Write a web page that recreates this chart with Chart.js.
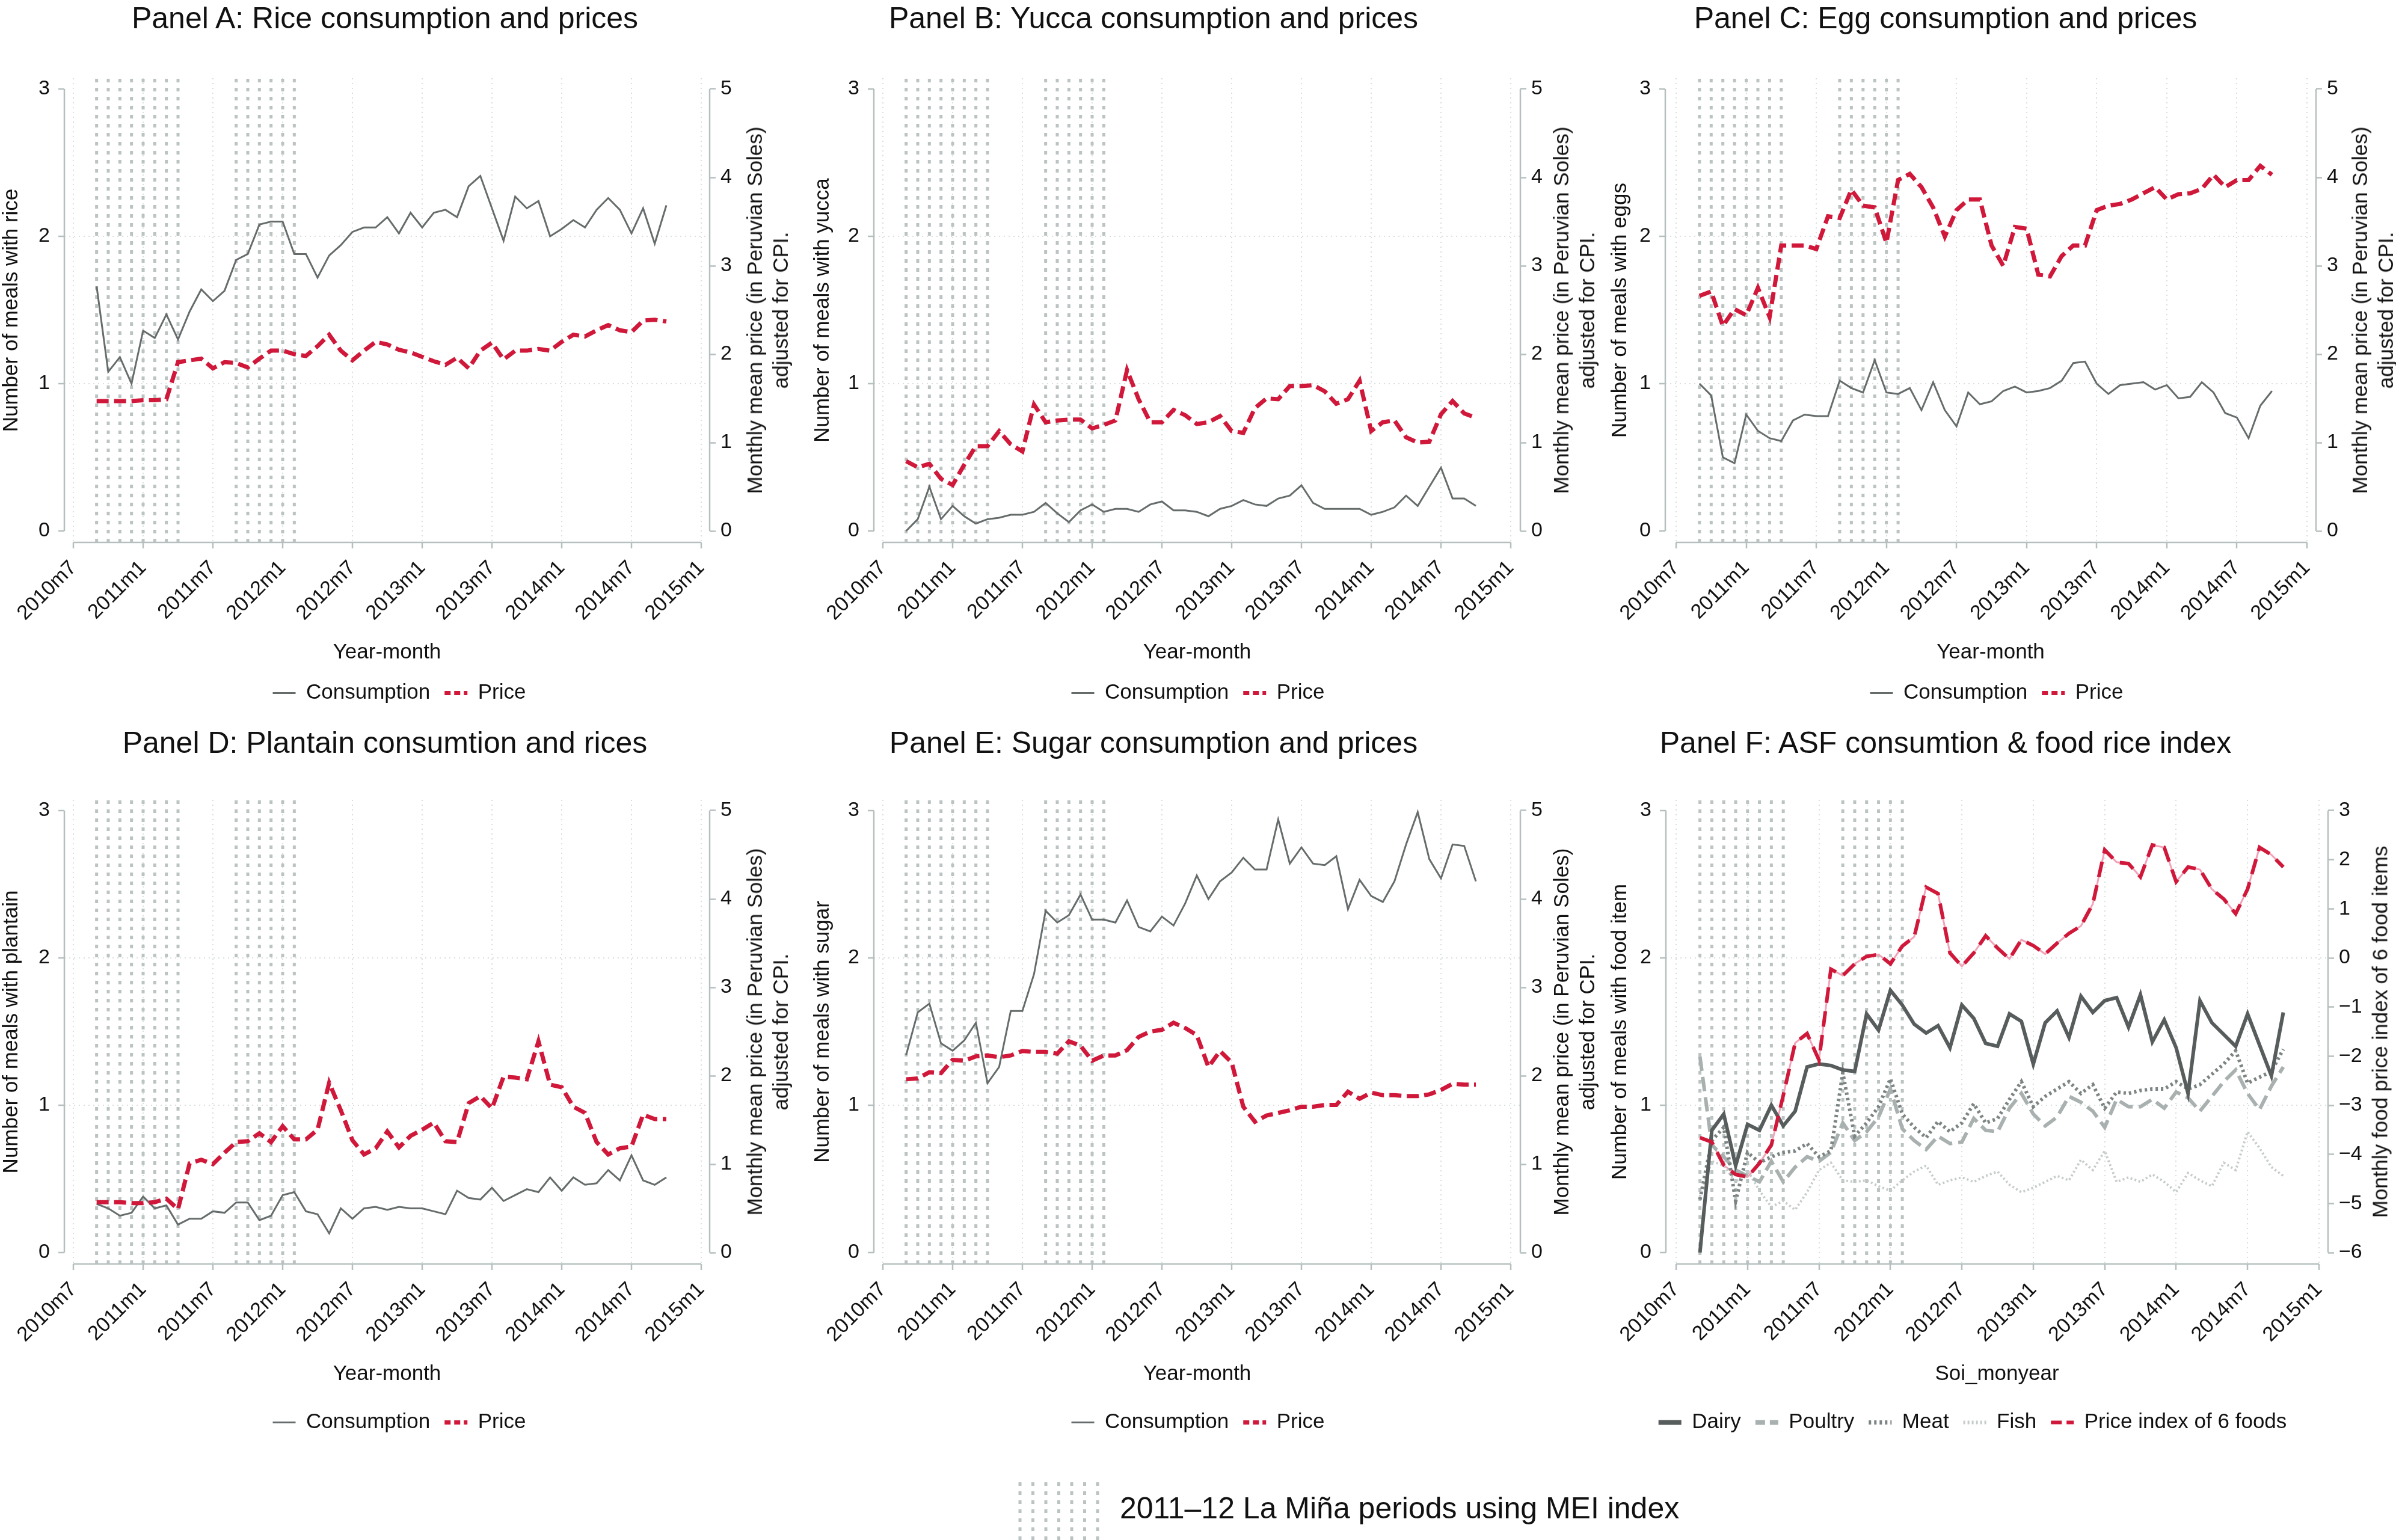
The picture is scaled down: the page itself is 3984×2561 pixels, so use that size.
<!DOCTYPE html>
<html>
<head>
<meta charset="utf-8">
<script src="https://cdn.jsdelivr.net/npm/chart.js@4.4.1/dist/chart.umd.min.js"></script>
<style>
html,body{margin:0;padding:0;background:#fff;}
#page{position:relative;width:3984px;height:2561px;overflow:hidden;background:#fff;font-family:"Liberation Sans",Arial,sans-serif;color:#111;}
#page canvas{position:absolute;}
.ptitle{position:absolute;font-size:50px;line-height:50px;white-space:nowrap;transform:translate(-50%,-50%);}
.rtitle{position:absolute;font-size:35px;line-height:43px;white-space:nowrap;text-align:center;transform:translate(-50%,-50%) rotate(-90deg);}
.ninaText{position:absolute;font-size:50px;line-height:50px;white-space:nowrap;transform:translateY(-50%);}
</style>
</head>
<body>
<div id="page"></div>
<script>
// ---------------- DATA ----------------
const xTickLabels = ['2010m7','2011m1','2011m7','2012m1','2012m7','2013m1','2013m7','2014m1','2014m7','2015m1'];
const months = ['2010m9','2010m10','2010m11','2010m12',
  '2011m1','2011m2','2011m3','2011m4','2011m5','2011m6','2011m7','2011m8','2011m9','2011m10','2011m11','2011m12',
  '2012m1','2012m2','2012m3','2012m4','2012m5','2012m6','2012m7','2012m8','2012m9','2012m10','2012m11','2012m12',
  '2013m1','2013m2','2013m3','2013m4','2013m5','2013m6','2013m7','2013m8','2013m9','2013m10','2013m11','2013m12',
  '2014m1','2014m2','2014m3','2014m4','2014m5','2014m6','2014m7','2014m8','2014m9','2014m10'];
const laNinaMonths = ['2010m9','2010m10','2010m11','2010m12','2011m1','2011m2','2011m3','2011m4',
  '2011m9','2011m10','2011m11','2011m12','2012m1','2012m2'];

const leftTicks = [0, 1, 2, 3];
const priceTicks = [0, 1, 2, 3, 4, 5];
const indexTicks = [-6, -5, -4, -3, -2, -1, 0, 1, 2, 3];

const riceConsumption = [1.66,1.08,1.18,1.00,
  1.36,1.31,1.47,1.30,1.49,1.64,1.56,1.63,1.84,1.88,2.08,2.10,
  2.10,1.88,1.88,1.72,1.87,1.94,2.03,2.06,2.06,2.13,2.02,2.16,
  2.06,2.16,2.18,2.13,2.34,2.41,2.19,1.97,2.27,2.19,2.24,2.00,
  2.05,2.11,2.06,2.18,2.26,2.18,2.02,2.19,1.95,2.21];
const ricePrice = [1.47,1.47,1.47,1.47,
  1.48,1.48,1.49,1.91,1.93,1.95,1.84,1.91,1.90,1.85,1.95,2.04,
  2.04,2.00,1.98,2.09,2.22,2.04,1.93,2.04,2.14,2.11,2.05,2.02,
  1.97,1.92,1.88,1.96,1.84,2.04,2.13,1.94,2.04,2.04,2.06,2.04,
  2.14,2.22,2.20,2.27,2.33,2.27,2.25,2.38,2.39,2.37];

const yuccaConsumption = [0.00,0.08,0.30,0.08,
  0.17,0.10,0.05,0.08,0.09,0.11,0.11,0.13,0.19,0.12,0.06,0.14,
  0.18,0.13,0.15,0.15,0.13,0.18,0.20,0.14,0.14,0.13,0.10,0.15,
  0.17,0.21,0.18,0.17,0.22,0.24,0.31,0.19,0.15,0.15,0.15,0.15,
  0.11,0.13,0.16,0.24,0.17,0.30,0.43,0.22,0.22,0.17];
const yuccaPrice = [0.79,0.72,0.76,0.59,
  0.52,0.75,0.96,0.96,1.13,0.98,0.90,1.43,1.23,1.25,1.26,1.26,
  1.16,1.20,1.25,1.82,1.49,1.23,1.23,1.37,1.31,1.21,1.23,1.30,
  1.13,1.11,1.39,1.50,1.49,1.64,1.64,1.65,1.58,1.44,1.49,1.70,
  1.13,1.23,1.25,1.06,1.00,1.01,1.32,1.47,1.33,1.28];

const eggConsumption = [1.00,0.92,0.50,0.46,
  0.79,0.68,0.63,0.61,0.75,0.79,0.78,0.78,1.02,0.97,0.94,1.16,
  0.94,0.93,0.97,0.82,1.01,0.82,0.71,0.94,0.86,0.88,0.95,0.98,
  0.94,0.95,0.97,1.02,1.14,1.15,1.00,0.93,0.99,1.00,1.01,0.96,
  0.99,0.90,0.91,1.01,0.94,0.80,0.77,0.63,0.85,0.95];
const eggPrice = [2.66,2.71,2.32,2.51,
  2.44,2.75,2.42,3.23,3.23,3.23,3.19,3.56,3.54,3.86,3.68,3.66,
  3.26,3.97,4.04,3.89,3.66,3.33,3.63,3.75,3.75,3.23,3.00,3.44,
  3.42,2.90,2.88,3.11,3.23,3.23,3.63,3.68,3.70,3.75,3.82,3.89,
  3.75,3.81,3.82,3.87,4.03,3.89,3.97,3.97,4.13,4.03];

const plantainConsumption = [0.33,0.30,0.25,0.27,
  0.38,0.30,0.32,0.19,0.23,0.23,0.28,0.27,0.34,0.34,0.22,0.25,
  0.39,0.41,0.28,0.26,0.13,0.30,0.23,0.30,0.31,0.29,0.31,0.30,
  0.30,0.28,0.26,0.42,0.37,0.36,0.44,0.35,0.39,0.43,0.41,0.51,
  0.42,0.51,0.46,0.47,0.56,0.49,0.66,0.49,0.46,0.51];
const plantainPrice = [0.57,0.57,0.57,0.56,
  0.56,0.57,0.61,0.49,1.01,1.05,1.00,1.13,1.25,1.26,1.35,1.25,
  1.43,1.28,1.28,1.39,1.92,1.61,1.27,1.11,1.18,1.37,1.19,1.32,
  1.39,1.47,1.26,1.25,1.69,1.77,1.63,1.99,1.98,1.96,2.39,1.90,
  1.87,1.65,1.58,1.25,1.11,1.18,1.20,1.56,1.51,1.51];

const sugarConsumption = [1.34,1.63,1.69,1.42,
  1.37,1.44,1.56,1.15,1.26,1.64,1.64,1.89,2.32,2.24,2.29,2.43,
  2.26,2.26,2.24,2.39,2.21,2.18,2.28,2.22,2.37,2.56,2.40,2.52,
  2.58,2.68,2.60,2.60,2.94,2.64,2.75,2.64,2.63,2.69,2.33,2.53,
  2.42,2.38,2.52,2.77,2.99,2.67,2.54,2.77,2.76,2.52];
const sugarPrice = [1.96,1.97,2.04,2.03,
  2.18,2.17,2.22,2.23,2.21,2.23,2.28,2.27,2.27,2.25,2.39,2.34,
  2.17,2.23,2.23,2.29,2.44,2.50,2.52,2.60,2.54,2.46,2.10,2.28,
  2.15,1.65,1.48,1.55,1.58,1.61,1.65,1.65,1.67,1.67,1.82,1.74,
  1.81,1.78,1.78,1.77,1.77,1.79,1.84,1.91,1.90,1.90];

const dairy = [0.00,0.83,0.94,0.59,
  0.87,0.83,1.00,0.86,0.96,1.26,1.28,1.27,1.24,1.23,1.62,1.51,
  1.78,1.68,1.55,1.49,1.54,1.39,1.68,1.59,1.42,1.40,1.62,1.57,
  1.28,1.56,1.64,1.46,1.74,1.63,1.71,1.73,1.53,1.75,1.43,1.58,
  1.39,1.08,1.71,1.56,1.48,1.40,1.62,1.41,1.20,1.63];
const poultry = [1.33,0.73,0.65,0.56,
  0.52,0.48,0.62,0.48,0.58,0.65,0.62,0.68,0.88,0.76,0.82,0.92,
  1.11,0.84,0.76,0.70,0.79,0.74,0.75,0.91,0.83,0.82,0.98,1.08,
  0.94,0.86,0.92,1.06,1.02,0.96,0.85,1.04,0.99,0.99,1.04,0.98,
  1.09,1.05,0.96,1.06,1.16,1.24,1.08,0.97,1.13,1.26];
const meat = [0.36,0.76,0.85,0.35,
  0.68,0.61,0.65,0.68,0.69,0.74,0.65,0.69,1.22,0.79,0.88,0.99,
  1.18,0.94,0.85,0.78,0.89,0.82,0.88,1.01,0.88,0.91,1.04,1.16,
  0.99,1.06,1.11,1.16,1.08,1.14,0.98,1.09,1.08,1.10,1.11,1.11,
  1.16,1.11,1.14,1.21,1.28,1.37,1.15,1.19,1.23,1.38];
const fish = [0.38,0.62,0.59,0.48,
  0.56,0.42,0.31,0.35,0.29,0.41,0.56,0.61,0.49,0.48,0.49,0.45,
  0.42,0.49,0.55,0.59,0.46,0.49,0.51,0.48,0.52,0.55,0.46,0.41,
  0.44,0.48,0.52,0.49,0.63,0.56,0.69,0.48,0.51,0.48,0.53,0.48,
  0.41,0.54,0.49,0.45,0.61,0.56,0.82,0.71,0.58,0.52];
const priceIndex = [-3.66,-3.75,-4.22,-4.41,
  -4.46,-4.18,-3.81,-2.80,-1.73,-1.54,-2.08,-0.23,-0.36,-0.12,0.03,0.07,
  -0.12,0.24,0.43,1.44,1.31,0.10,-0.17,0.10,0.45,0.20,-0.02,0.37,
  0.25,0.08,0.30,0.50,0.65,1.10,2.20,1.95,1.92,1.65,2.30,2.25,
  1.55,1.85,1.80,1.40,1.20,0.90,1.40,2.25,2.10,1.85];

// ---------------- HELPERS ----------------
function monthIndex(s){ const p = s.split('m'); return (Number(p[0]) - 2010) * 12 + (Number(p[1]) - 7); }
function pts(vals){ return vals.map((v, i) => ({x: monthIndex(months[i]), y: v})); }
function xLabel(v){ const l = xTickLabels.find(t => monthIndex(t) === v); return l || ''; }
function fmtNum(v){ return v < 0 ? '\u2212' + Math.abs(v) : String(v); }

const COL = {gray:'#666c6c', red:'#d0183a', pink:'#f2a2b8', axis:'#b6bfbf', grid:'#d9dede', nina:'#bcc3c3', text:'#111111'};
Chart.defaults.font.family = '"Liberation Sans", Arial, sans-serif';
Chart.defaults.color = COL.text;

// layout geometry (page pixels)
const COLS = [
  {canvasLeft:0,    areaL:107,  areaR:1180, x0:122,  x54:1166, yTitleC:19,   rTitleX:1276, titleX:640},
  {canvasLeft:1328, areaL:1453, areaR:2528, x0:1468, x54:2512, yTitleC:1368, rTitleX:2617, titleX:1918},
  {canvasLeft:2656, areaL:2769, areaR:3851, x0:2787, x54:3836, yTitleC:2694, rTitleX:3945, titleX:3235}
];
const LEG_PAD = 24;
const LEG_H = 35 + LEG_PAD + 10;
const ROWS = [
  {top:0,    H:1180, titleY:30,   pb:8.5},
  {top:1200, H:1193, titleY:1235, pb:21.5}
];
const CW = 1328, AREA_TOP = 130, AREA_BOTTOM = 902, Y3 = 148, Y0 = 883;

const ninaPlugin = {
  id: 'ninaLines',
  beforeDatasetsDraw(chart){
    const {ctx, chartArea: a, scales: {x}} = chart;
    ctx.save();
    ctx.strokeStyle = COL.nina; ctx.lineWidth = 5; ctx.setLineDash([6, 9]);
    laNinaMonths.forEach(m => {
      const px = x.getPixelForValue(monthIndex(m));
      ctx.beginPath(); ctx.moveTo(px, a.bottom); ctx.lineTo(px, a.top); ctx.stroke();
    });
    ctx.restore();
  }
};
const axesPlugin = {
  id: 'stataAxes',
  afterDraw(chart){
    const {ctx, chartArea: a, scales: {x, y, y2}} = chart;
    ctx.save();
    ctx.strokeStyle = COL.axis; ctx.lineWidth = 2.5; ctx.setLineDash([]);
    ctx.beginPath();
    ctx.moveTo(x.getPixelForValue(x.ticks[0].value), a.bottom);
    ctx.lineTo(x.getPixelForValue(x.ticks[x.ticks.length - 1].value), a.bottom);
    ctx.moveTo(a.left, y.getPixelForValue(y.ticks[0].value));
    ctx.lineTo(a.left, y.getPixelForValue(y.ticks[y.ticks.length - 1].value));
    ctx.moveTo(a.right, y2.getPixelForValue(y2.ticks[0].value));
    ctx.lineTo(a.right, y2.getPixelForValue(y2.ticks[y2.ticks.length - 1].value));
    ctx.stroke();
    ctx.restore();
  }
};

const page = document.getElementById('page');

function addDiv(cls, html, left, top){
  const d = document.createElement('div');
  d.className = cls; d.innerHTML = html;
  d.style.left = left + 'px'; d.style.top = top + 'px';
  page.appendChild(d);
  return d;
}

function lineDS(label, vals, axis, color, width, dash, extra){
  return Object.assign({label, data: pts(vals), yAxisID: axis, borderColor: color, backgroundColor: color,
    borderWidth: width, borderDash: dash || [], pointRadius: 0, pointHoverRadius: 0, tension: 0, fill: false,
    borderCapStyle: 'butt', borderJoinStyle: 'miter'}, extra || {});
}

function makePanel(p){
  const g = Object.assign({}, COLS[p.col], p.geom || {});
  const r = ROWS[p.row];
  const canvas = document.createElement('canvas');
  canvas.width = CW; canvas.height = r.H;
  canvas.style.left = g.canvasLeft + 'px'; canvas.style.top = r.top + 'px';
  canvas.style.width = CW + 'px'; canvas.style.height = r.H + 'px';
  page.appendChild(canvas);

  const pxm = (g.x54 - g.x0) / 54;
  const xMin = -(g.x0 - g.areaL) / pxm, xMax = 54 + (g.areaR - g.x54) / pxm;
  const leftW = g.areaL - g.canvasLeft;
  const rightW = g.canvasLeft + CW - g.areaR;
  const Hx = r.H - LEG_H - AREA_BOTTOM;
  const lpx = (Y0 - Y3) / 3;
  const rT = p.rightTicks, rLo = rT[0], rHi = rT[rT.length - 1];
  const rpx = (Y0 - Y3) / (rHi - rLo);

  new Chart(canvas, {
    type: 'line',
    data: {datasets: p.datasets},
    plugins: [ninaPlugin, axesPlugin],
    options: {
      responsive: false, animation: false, devicePixelRatio: 1, events: [],
      layout: {padding: {top: AREA_TOP, left: 0, right: 0, bottom: 0}},
      plugins: {
        title: {display: false},
        tooltip: {enabled: false},
        legend: {
          display: true, position: 'bottom',
          labels: {
            usePointStyle: true, pointStyleWidth: 38, padding: LEG_PAD, color: COL.text,
            font: {size: 35},
            generateLabels: (chart) => chart.data.datasets.map((d, i) => d.noLegend ? null : ({
              text: d.label, fillStyle: d.borderColor, strokeStyle: d.borderColor,
              lineWidth: d.legendWidth || d.borderWidth, lineDash: d.legendDash || d.borderDash || [],
              lineCap: 'butt', pointStyle: 'line', datasetIndex: i, hidden: false, fontColor: COL.text
            })).filter(Boolean)
          }
        }
      },
      scales: {
        x: {
          type: 'linear', position: 'bottom', min: xMin, max: xMax,
          afterBuildTicks: ax => { ax.ticks = xTickLabels.map(l => ({value: monthIndex(l)})); },
          afterFit: ax => { ax.height = Hx; },
          border: {display: false, dash: [2, 6]},
          grid: {color: COL.grid, lineWidth: 2, tickColor: COL.axis, tickLength: 10, tickWidth: 2.5},
          ticks: {autoSkip: false, maxRotation: 45, minRotation: 45, padding: 15,
                  font: {size: 34, lineHeight: 1}, color: COL.text, callback: v => xLabel(v)},
          title: {display: true, text: p.xTitle, color: COL.text, font: {size: 35, lineHeight: 1},
                  padding: {top: 0, bottom: r.pb}}
        },
        y: {
          type: 'linear', position: 'left',
          min: 0 - (AREA_BOTTOM - Y0) / lpx, max: 3 + (Y3 - AREA_TOP) / lpx,
          afterBuildTicks: ax => { ax.ticks = leftTicks.map(v => ({value: v})); },
          afterFit: ax => { ax.width = leftW; },
          border: {display: false, dash: [2, 6]},
          grid: {color: c => (c.tick && (c.tick.value === 1 || c.tick.value === 2)) ? COL.grid : 'rgba(0,0,0,0)',
                 lineWidth: 2, tickColor: COL.axis, tickLength: 10, tickWidth: 2.5},
          ticks: {font: {size: 34}, color: COL.text, padding: 14, callback: v => fmtNum(v)},
          title: {display: true, text: p.yTitle, color: COL.text, font: {size: 35, lineHeight: 1},
                  padding: {top: g.yTitleC - g.canvasLeft - 17.5, bottom: 0}}
        },
        y2: {
          type: 'linear', position: 'right',
          min: rLo - (AREA_BOTTOM - Y0) / rpx, max: rHi + (Y3 - AREA_TOP) / rpx,
          afterBuildTicks: ax => { ax.ticks = rT.map(v => ({value: v})); },
          afterFit: ax => { ax.width = rightW; },
          border: {display: false},
          grid: {drawOnChartArea: false, color: COL.axis, tickColor: COL.axis, tickLength: 10, tickWidth: 2.5},
          ticks: {font: {size: 34}, color: COL.text, padding: 8, callback: v => fmtNum(v)},
          title: {display: false}
        }
      }
    }
  });

  addDiv('ptitle', p.title, g.titleX, r.titleY);
  addDiv('rtitle', p.rTitle, g.rTitleX, r.top + (Y3 + Y0) / 2);
}

const PRICE_TITLE = 'Monthly mean price (in Peruvian Soles)<br>adjusted for CPI.';
function consPrice(cons, price){
  return [
    lineDS('Consumption', cons, 'y', COL.gray, 3, [], {order: 2}),
    lineDS('Price', price, 'y2', COL.red, 7, [20, 9], {order: 1, legendDash: [10, 6]})
  ];
}

const panels = [
  {col:0,row:0,title:'Panel A: Rice consumption and prices', yTitle:'Number of meals with rice', xTitle:'Year-month',
   rTitle: PRICE_TITLE, rightTicks: priceTicks, datasets: consPrice(riceConsumption, ricePrice)},
  {col:1,row:0,title:'Panel B: Yucca consumption and prices', yTitle:'Number of meals with yucca', xTitle:'Year-month',
   rTitle: PRICE_TITLE, rightTicks: priceTicks, datasets: consPrice(yuccaConsumption, yuccaPrice)},
  {col:2,row:0,title:'Panel C: Egg consumption and prices', yTitle:'Number of meals with eggs', xTitle:'Year-month',
   rTitle: PRICE_TITLE, rightTicks: priceTicks, datasets: consPrice(eggConsumption, eggPrice)},
  {col:0,row:1,title:'Panel D: Plantain consumtion and rices', yTitle:'Number of meals with plantain', xTitle:'Year-month',
   rTitle: PRICE_TITLE, rightTicks: priceTicks, datasets: consPrice(plantainConsumption, plantainPrice)},
  {col:1,row:1,title:'Panel E: Sugar consumption and prices', yTitle:'Number of meals with sugar', xTitle:'Year-month',
   rTitle: PRICE_TITLE, rightTicks: priceTicks, datasets: consPrice(sugarConsumption, sugarPrice)},
  {col:2,row:1,title:'Panel F: ASF consumtion &amp; food rice index', yTitle:'Number of meals with food item', xTitle:'Soi_monyear',
   rTitle: 'Monthly food price index of 6 food items', rightTicks: indexTicks,
   geom: {canvasLeft:2616, areaL:2770, areaR:3871, x0:2787, x54:3856, rTitleX:3957},
   datasets: [
     lineDS('Dairy', dairy, 'y', '#575c5c', 6, [], {order: 1, legendWidth: 8}),
     lineDS('Poultry', poultry, 'y', '#a9b0b0', 6, [24, 10], {order: 3, legendWidth: 8, legendDash: [16, 8]}),
     lineDS('Meat', meat, 'y', '#7d8484', 6, [4, 5], {order: 2, legendWidth: 7}),
     lineDS('Fish', fish, 'y', '#c6cbcb', 4, [3, 4], {order: 4, legendWidth: 6}),
     lineDS('Price index of 6 foods', priceIndex, 'y2', COL.red, 6, [26, 14], {order: 0, legendDash: [18, 8]}),
     lineDS('Price index underlay', priceIndex, 'y2', COL.pink, 3, [], {order: 5, noLegend: true})
   ]}
];
panels.forEach(makePanel);

// La Niña legend key
const svgNS = 'http://www.w3.org/2000/svg';
const svg = document.createElementNS(svgNS, 'svg');
svg.setAttribute('width', '140'); svg.setAttribute('height', '96');
svg.style.position = 'absolute'; svg.style.left = '1690px'; svg.style.top = '2465px';
for (let i = 0; i < 7; i++) {
  const ln = document.createElementNS(svgNS, 'line');
  const xx = 6 + i * 21.5;
  ln.setAttribute('x1', xx); ln.setAttribute('x2', xx); ln.setAttribute('y1', 0); ln.setAttribute('y2', 96);
  ln.setAttribute('stroke', COL.nina); ln.setAttribute('stroke-width', 5); ln.setAttribute('stroke-dasharray', '6 9');
  svg.appendChild(ln);
}
page.appendChild(svg);
addDiv('ninaText', '2011\u201312 La Mi\u00f1a periods using MEI index', 1862, 2508);
</script>
</body>
</html>
